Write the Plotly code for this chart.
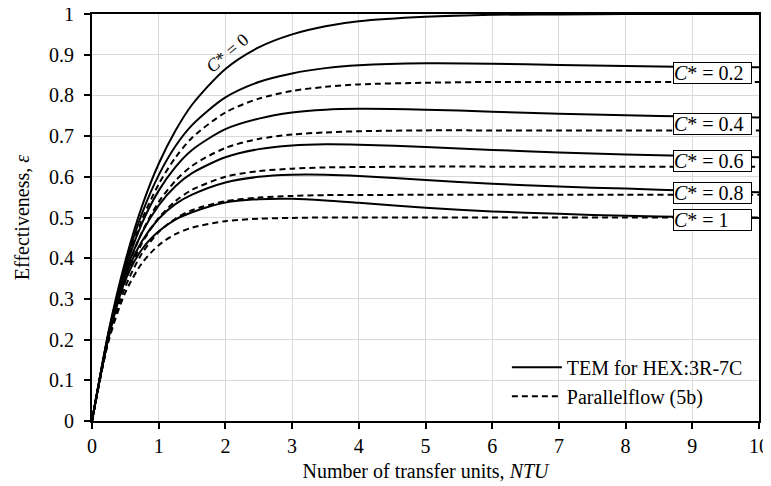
import plotly.graph_objects as go

# ---------------- data ----------------
ntu = [0, 0.25, 0.5, 0.75, 1, 1.25, 1.5, 2, 2.5, 3, 3.5, 4, 5, 6, 7, 8, 9, 10]

# TEM for HEX:3R-7C (solid)
tem_c0  = [0, 0.221, 0.393, 0.528, 0.632, 0.713, 0.777, 0.865, 0.918, 0.950, 0.970, 0.982, 0.993, 0.998, 0.999, 1.000, 1.000, 1.000]
tem_c02 = [0, 0.218, 0.384, 0.510, 0.604, 0.675, 0.727, 0.795, 0.833, 0.854, 0.867, 0.874, 0.879, 0.878, 0.875, 0.872, 0.870, 0.869]
tem_c04 = [0, 0.215, 0.374, 0.486, 0.566, 0.624, 0.666, 0.717, 0.743, 0.758, 0.765, 0.767, 0.765, 0.760, 0.755, 0.751, 0.748, 0.746]
tem_c06 = [0, 0.212, 0.364, 0.463, 0.530, 0.577, 0.609, 0.648, 0.668, 0.677, 0.680, 0.679, 0.673, 0.666, 0.660, 0.655, 0.651, 0.648]
tem_c08 = [0, 0.208, 0.355, 0.442, 0.497, 0.533, 0.556, 0.586, 0.600, 0.605, 0.605, 0.602, 0.592, 0.583, 0.576, 0.571, 0.566, 0.562]
tem_c1  = [0, 0.205, 0.346, 0.422, 0.466, 0.495, 0.513, 0.537, 0.545, 0.546, 0.542, 0.536, 0.524, 0.515, 0.509, 0.504, 0.501, 0.499]

# Parallelflow (5b) (dashed)
par_c02 = [0, 0.216, 0.376, 0.495, 0.582, 0.647, 0.696, 0.758, 0.792, 0.811, 0.821, 0.827, 0.831, 0.833, 0.833, 0.833, 0.833, 0.833]
par_c04 = [0, 0.211, 0.360, 0.464, 0.538, 0.590, 0.627, 0.671, 0.693, 0.704, 0.709, 0.712, 0.714, 0.714, 0.714, 0.714, 0.714, 0.714]
par_c06 = [0, 0.206, 0.344, 0.437, 0.499, 0.540, 0.568, 0.600, 0.614, 0.620, 0.623, 0.624, 0.625, 0.625, 0.625, 0.625, 0.625, 0.625]
par_c08 = [0, 0.201, 0.330, 0.412, 0.464, 0.497, 0.518, 0.540, 0.549, 0.553, 0.555, 0.555, 0.556, 0.556, 0.556, 0.556, 0.556, 0.556]
par_c1  = [0, 0.197, 0.316, 0.388, 0.432, 0.459, 0.475, 0.491, 0.497, 0.499, 0.500, 0.500, 0.500, 0.500, 0.500, 0.500, 0.500, 0.500]

tem_series = [tem_c0, tem_c02, tem_c04, tem_c06, tem_c08, tem_c1]
par_series = [par_c02, par_c04, par_c06, par_c08, par_c1]

label_texts = ["0.2", "0.4", "0.6", "0.8", "1"]
label_y = [0.854, 0.730, 0.638, 0.560, 0.495]
label_x = 9.31
c0_label = ("0", 2.03, 0.903)

legend_names = ["TEM for HEX:3R-7C", "Parallelflow (5b)"]
x_ticks = list(range(0, 11))
y_ticks = [round(i * 0.1, 1) for i in range(11)]

FONT = "Liberation Serif, Times New Roman, serif"
FS = 20

fig = go.Figure()

for i, ys in enumerate(tem_series):
    fig.add_trace(go.Scatter(
        x=ntu, y=ys, mode="lines",
        line=dict(color="black", width=2, shape="spline", smoothing=0.8),
        name=legend_names[0], legendgroup="tem", showlegend=(i == 0),
    ))
for i, ys in enumerate(par_series):
    fig.add_trace(go.Scatter(
        x=ntu, y=ys, mode="lines",
        line=dict(color="black", width=2, dash="6px,4px", shape="spline", smoothing=0.8),
        name=legend_names[1], legendgroup="par", showlegend=(i == 0),
    ))

annotations = []
for t, yv in zip(label_texts, label_y):
    annotations.append(dict(
        x=label_x, y=yv, xref="x", yref="y", showarrow=False,
        text="<i>C</i>* = " + t, font=dict(family=FONT, size=FS, color="black"),
        bgcolor="white", bordercolor="black", borderwidth=1, borderpad=0,
        width=77, height=20, align="left", xanchor="center", yanchor="middle",
    ))
annotations.append(dict(
    x=c0_label[1], y=c0_label[2], xref="x", yref="y", showarrow=False,
    text="<i>C</i>* = " + c0_label[0], textangle=-40,
    font=dict(family=FONT, size=18, color="black"),
))

# the page body has an 8px margin, so the figure is sized to fit the window
fig.update_layout(
    width=763, height=478,
    margin=dict(l=84, r=12, t=6, b=65),
    paper_bgcolor="white", plot_bgcolor="white",
    font=dict(family=FONT, size=FS, color="black"),
    showlegend=True,
    legend=dict(x=0.622, y=0.18, xanchor="left", yanchor="top",
                bgcolor="rgba(255,255,255,0)", borderwidth=0,
                font=dict(family=FONT, size=FS, color="black"),
                itemwidth=50, tracegroupgap=0),
    annotations=annotations,
)
fig.update_xaxes(
    range=[0, 10], tickvals=x_ticks, ticktext=[str(v) for v in x_ticks],
    showgrid=True, gridcolor="#d9d9d9", gridwidth=1, zeroline=False,
    showline=True, linecolor="black", linewidth=2, mirror=True,
    ticks="outside", ticklen=6, tickwidth=1.5, tickcolor="black",
    ticklabeloverflow="allow",
    automargin=False,
    title=dict(text="Number of transfer units, <i>NTU</i>", standoff=8,
               font=dict(family=FONT, size=FS)),
)
fig.update_yaxes(
    range=[0, 1], tickvals=y_ticks, ticktext=[("%g" % v) for v in y_ticks],
    showgrid=True, gridcolor="#d9d9d9", gridwidth=1, zeroline=False,
    showline=True, linecolor="black", linewidth=2, mirror=True,
    ticks="outside", ticklen=6, tickwidth=1.5, tickcolor="black",
    ticklabelstandoff=6, ticklabeloverflow="allow",
    automargin=False,
    title=dict(text="Effectiveness, <i>ε</i>", standoff=14,
               font=dict(family=FONT, size=FS)),
)

fig.write_html("out.html")
